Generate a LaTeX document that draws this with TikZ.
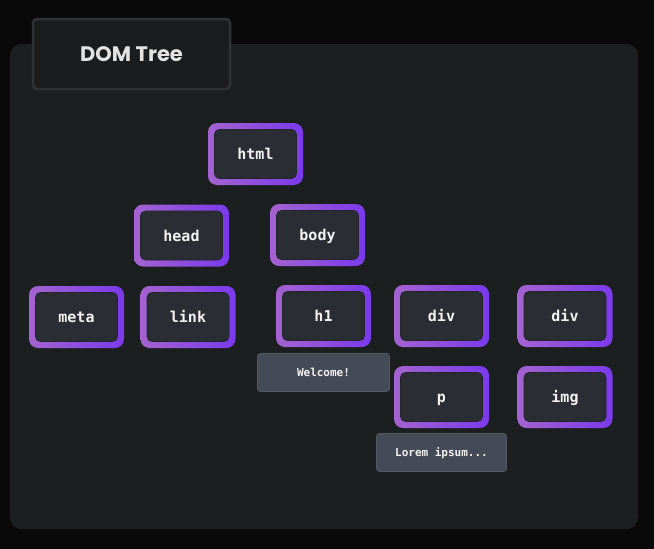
\documentclass[tikz,border=0pt]{standalone}
\usepackage{fontspec}
\newfontfamily\titlefont{Poppins}
\newfontfamily\monofont{DejaVu Sans Mono}
\usetikzlibrary{positioning}
\definecolor{bg}{HTML}{090909}
\definecolor{panel}{HTML}{1C1F20}
\definecolor{tbfill}{HTML}{1A1C1D}
\definecolor{tbdraw}{HTML}{2F3234}
\definecolor{titletext}{HTML}{E2E2E2}
\definecolor{purpL}{HTML}{A463D0}
\definecolor{purpR}{HTML}{7A3AEC}
\definecolor{inner}{HTML}{2A2D33}
\definecolor{innerdraw}{HTML}{23252B}
\definecolor{txtbox}{HTML}{454A57}
\definecolor{txtboxdraw}{HTML}{525766}
\definecolor{tagtext}{HTML}{F2F2F2}
\tikzset{
  x=1pt, y=-1pt,
  tagouter/.style={shade, left color=purpL, right color=purpR, rounded corners=9pt,
    minimum width=95pt, minimum height=62pt, inner sep=0pt, draw=none},
  taginner/.style={fill=inner, draw=innerdraw, line width=0.8pt, rounded corners=5pt,
    minimum width=82pt, minimum height=49pt, inner sep=0pt, text height=11pt, text depth=0pt,
    text=tagtext, font=\monofont\bfseries\fontsize{15}{18}\selectfont},
  textbox/.style={fill=txtbox, draw=txtboxdraw, line width=0.8pt, rounded corners=3pt,
    minimum height=38pt, inner sep=0pt, text height=8pt, text depth=0pt,
    text=tagtext, font=\monofont\bfseries\fontsize{11}{13}\selectfont},
}
\newcommand{\tagnode}[3]{%
  \node[tagouter] (#1) at #2 {};
  \node[taginner] (#1-in) at #2 {#3};
}
\begin{document}
\begin{tikzpicture}
\fill[bg] (0,0) rectangle (654,549);
\useasboundingbox (0,0) rectangle (654,549);
\fill[panel, rounded corners=11pt] (10,44) rectangle (638,529);
\node[fill=tbfill, draw=tbdraw, line width=2.5pt, rounded corners=4pt,
  minimum width=197pt, minimum height=70pt, inner sep=0pt,
  text=titletext, font=\titlefont\bfseries\fontsize{21}{24}\selectfont] (title) at (131.5,54) {DOM Tree};
\tagnode{html}{(255.5,154)}{html}
\tagnode{head}{(181.5,235.5)}{head}
\tagnode{body}{(317.5,235)}{body}
\tagnode{meta}{(76.5,317)}{meta}
\tagnode{link}{(188,317)}{link}
\tagnode{h1}{(323.5,316)}{h1}
\tagnode{div1}{(441.5,316)}{div}
\tagnode{div2}{(565,316)}{div}
\tagnode{p}{(441.5,397)}{p}
\tagnode{img}{(565,397)}{img}
\node[textbox, minimum width=132pt] (welcome) at (323.5,372.5) {Welcome!};
\node[textbox, minimum width=130pt] (lorem) at (441.5,452.5) {Lorem ipsum...};
\end{tikzpicture}
\end{document}
